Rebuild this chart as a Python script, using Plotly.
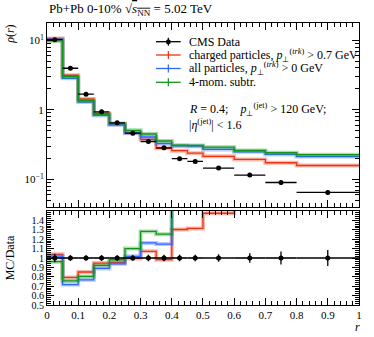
import plotly.graph_objects as go

# ---------------- data ----------------
bin_edges = [0.0, 0.05, 0.10, 0.15, 0.20, 0.25, 0.30, 0.35, 0.40, 0.45, 0.50, 0.60, 0.70, 0.80, 1.00]
cms_rho = [10.2, 3.96, 1.68, 0.935, 0.65, 0.461, 0.35, 0.284, 0.198, 0.181, 0.145, 0.115, 0.090, 0.0648]
cms_relerr = [0.045, 0.03, 0.03, 0.03, 0.03, 0.03, 0.035, 0.035, 0.035, 0.035, 0.04, 0.05, 0.07, 0.085]
charged_rho = [10.6, 3.14, 1.43, 0.885, 0.619, 0.459, 0.375, 0.279, 0.258, 0.238, 0.214, 0.193, 0.173, 0.158]
allpart_rho = [10.4, 2.84, 1.29, 0.831, 0.610, 0.469, 0.406, 0.326, 0.302, 0.300, 0.269, 0.249, 0.228, 0.213]
fourmom_rho = [9.8, 3.00, 1.35, 0.861, 0.638, 0.507, 0.449, 0.356, 0.31, 0.307, 0.290, 0.260, 0.241, 0.226]

main_ytickvals = [0.1, 1, 10]
main_yticktext = ["10<sup>−1</sup>", "1", "10<sup>1</sup>"]
ratio_ytickvals = [0.5, 0.6, 0.7, 0.8, 0.9, 1.0, 1.1, 1.2, 1.3, 1.4]
ratio_yticktext = ["0.5", "0.6", "0.7", "0.8", "0.9", "1", "1.1", "1.2", "1.3", "1.4"]
xtickvals = [0, 0.1, 0.2, 0.3, 0.4, 0.5, 0.6, 0.7, 0.8, 0.9, 1.0]
xticktext = ["0", "0.1", "0.2", "0.3", "0.4", "0.5", "0.6", "0.7", "0.8", "0.9", "1"]

# ---------------- styling ----------------
W, H = 374, 337
ML, MR, MT, MB = 47, 12, 23, 32
FONT = "Liberation Serif"
RED, BLUE, GREEN = "#EE3311", "#3366FF", "#109618"
RED_L, BLUE_L, GREEN_L = "rgba(238,51,17,0.35)", "rgba(51,102,255,0.35)", "rgba(16,150,24,0.35)"

centers = [(a + b) / 2 for a, b in zip(bin_edges[:-1], bin_edges[1:])]
halfw = [(b - a) / 2 for a, b in zip(bin_edges[:-1], bin_edges[1:])]


def step(vals):
    return list(bin_edges), list(vals) + [vals[-1]]


fig = go.Figure()

mc_sets = [
    (charged_rho, RED, RED_L),
    (allpart_rho, BLUE, BLUE_L),
    (fourmom_rho, GREEN, GREEN_L),
]

# main panel MC
for vals, col, lcol in mc_sets:
    xs, ys = step(vals)
    fig.add_trace(go.Scatter(x=xs, y=ys, mode="lines", line=dict(shape="hv", color=lcol, width=4),
                             xaxis="x", yaxis="y", showlegend=False, hoverinfo="skip"))
    fig.add_trace(go.Scatter(x=xs, y=ys, mode="lines", line=dict(shape="hv", color=col, width=1.3),
                             xaxis="x", yaxis="y", showlegend=False))

# main panel data
fig.add_trace(go.Scatter(
    x=centers, y=cms_rho, mode="markers",
    marker=dict(color="black", size=5),
    error_x=dict(type="data", array=halfw, color="black", thickness=1.3, width=0),
    error_y=dict(type="data", array=[v * e for v, e in zip(cms_rho, cms_relerr)], color="black", thickness=1.3, width=0),
    xaxis="x", yaxis="y", showlegend=False))

# ratio panel MC
for vals, col, lcol in mc_sets:
    ratio = [m / d for m, d in zip(vals, cms_rho)]
    xs, ys = step(ratio)
    fig.add_trace(go.Scatter(x=xs, y=ys, mode="lines", line=dict(shape="hv", color=lcol, width=4),
                             xaxis="x2", yaxis="y2", showlegend=False, hoverinfo="skip"))
    fig.add_trace(go.Scatter(x=xs, y=ys, mode="lines", line=dict(shape="hv", color=col, width=1.3),
                             xaxis="x2", yaxis="y2", showlegend=False))

# ratio panel data
fig.add_trace(go.Scatter(
    x=centers, y=[1.0] * len(centers), mode="markers",
    marker=dict(color="black", size=5),
    error_x=dict(type="data", array=halfw, color="black", thickness=1.6, width=0),
    error_y=dict(type="data", array=cms_relerr, color="black", thickness=1.3, width=0),
    xaxis="x2", yaxis="y2", showlegend=False))

plot_h = H - MT - MB
ratio_top_px = 211
main_bot_px = 206.7


def py(p):  # pixel y -> paper y
    return (H - MB - p) / plot_h


def px(p):  # pixel x -> paper x
    return (p - ML) / (W - ML - MR)


axis_common = dict(showline=True, linecolor="black", linewidth=1, mirror="allticks",
                   ticks="inside", ticklen=7, tickcolor="black", showgrid=False, zeroline=False,
                   ticklabeloverflow="allow",
                   tickfont=dict(family=FONT, size=11, color="black"))

XR = [0, 1.0001]

fig.update_layout(
    width=W, height=H,
    margin=dict(l=ML, r=MR, t=MT, b=MB),
    paper_bgcolor="white", plot_bgcolor="white",
    font=dict(family=FONT, color="black"),
    xaxis=dict(axis_common, domain=[0, 1], range=XR, anchor="y", showticklabels=False,
               tickvals=xtickvals, matches="x2",
               minor=dict(ticks="inside", ticklen=4, dtick=0.02, tickcolor="black")),
    yaxis=dict(axis_common, domain=[py(main_bot_px), 1], type="log", range=[-1.394, 1.249], anchor="x",
               tickvals=main_ytickvals, ticktext=main_yticktext,
               minor=dict(ticks="inside", ticklen=4, dtick="D1", tickcolor="black")),
    xaxis2=dict(axis_common, domain=[0, 1], range=XR, anchor="y2",
                tickvals=xtickvals, ticktext=xticktext,
                minor=dict(ticks="inside", ticklen=4, dtick=0.02, tickcolor="black")),
    yaxis2=dict(axis_common, domain=[0, py(ratio_top_px)], range=[0.5, 1.5], anchor="x2",
                tickvals=ratio_ytickvals, ticktext=ratio_yticktext,
                tickfont=dict(family=FONT, size=10, color="black"),
                minor=dict(ticks="inside", ticklen=4, dtick=0.02, tickcolor="black")),
    showlegend=False,
)

ann = []
ann.append(dict(text="Pb+Pb 0-10% √<span style='text-decoration:overline'><i>s</i><sub>NN</sub></span> = 5.02 TeV",
                xref="paper", yref="paper", x=0, y=py(10), xanchor="left", yanchor="middle",
                showarrow=False, font=dict(family=FONT, size=13)))
ann.append(dict(text="<i>ρ</i>(<i>r</i>)", xref="paper", yref="paper", x=px(9), y=1,
                xanchor="center", yanchor="top", textangle=-90, showarrow=False,
                font=dict(family=FONT, size=12)))
ann.append(dict(text="MC/Data", xref="paper", yref="y2", x=px(10), y=1.0,
                xanchor="center", yanchor="middle", textangle=-90, showarrow=False,
                font=dict(family=FONT, size=12)))
ann.append(dict(text="<i>r</i>", xref="paper", yref="paper", x=px(360), y=py(327), xanchor="center",
                yanchor="middle", showarrow=False, font=dict(family=FONT, size=12)))

legend_rows = [
    ("CMS Data", "black", 41.7, True),
    ("charged particles, <i>p</i><sub>⊥</sub><sup>(<i>trk</i>)</sup> > 0.7 GeV", RED, 55.0, False),
    ("all particles, <i>p</i><sub>⊥</sub><sup>(<i>trk</i>)</sup> > 0 GeV", BLUE, 68.5, False),
    ("4-mom. subtr.", GREEN, 82.3, False),
]
shapes = []
lx0, lx1, ltx = 157, 182, 188
for text, col, ypix, is_data in legend_rows:
    yp = py(ypix)
    shapes.append(dict(type="line", xref="paper", yref="paper", x0=px(lx0), x1=px(lx1), y0=yp, y1=yp,
                       line=dict(color=col, width=1.3)))
    xm = (lx0 + lx1) / 2
    shapes.append(dict(type="line", xref="paper", yref="paper", x0=px(xm), x1=px(xm),
                       y0=py(ypix - 4), y1=py(ypix + 4), line=dict(color=col, width=1.2)))
    if is_data:
        shapes.append(dict(type="circle", xref="paper", yref="paper", x0=px(xm - 2.5), x1=px(xm + 2.5),
                           y0=py(ypix + 2.5), y1=py(ypix - 2.5), fillcolor="black", line=dict(color="black", width=0)))
    ann.append(dict(text=text, xref="paper", yref="paper", x=px(ltx), y=yp, xanchor="left", yanchor="middle",
                    showarrow=False, font=dict(family=FONT, size=12)))

ann.append(dict(text="<i>R</i> = 0.4;  &nbsp; <i>p</i><sub>⊥</sub><sup>(jet)</sup> > 120 GeV;",
                xref="paper", yref="paper", x=px(ltx), y=py(110), xanchor="left", yanchor="middle",
                showarrow=False, font=dict(family=FONT, size=12)))
ann.append(dict(text="|<i>η</i><sup>(jet)</sup>| < 1.6",
                xref="paper", yref="paper", x=px(ltx), y=py(125), xanchor="left", yanchor="middle",
                showarrow=False, font=dict(family=FONT, size=12)))

fig.update_layout(annotations=ann, shapes=shapes)
fig.write_html("out.html", config={"displayModeBar": False},
               post_script="document.body.style.margin='0';document.body.style.overflow='hidden';")
